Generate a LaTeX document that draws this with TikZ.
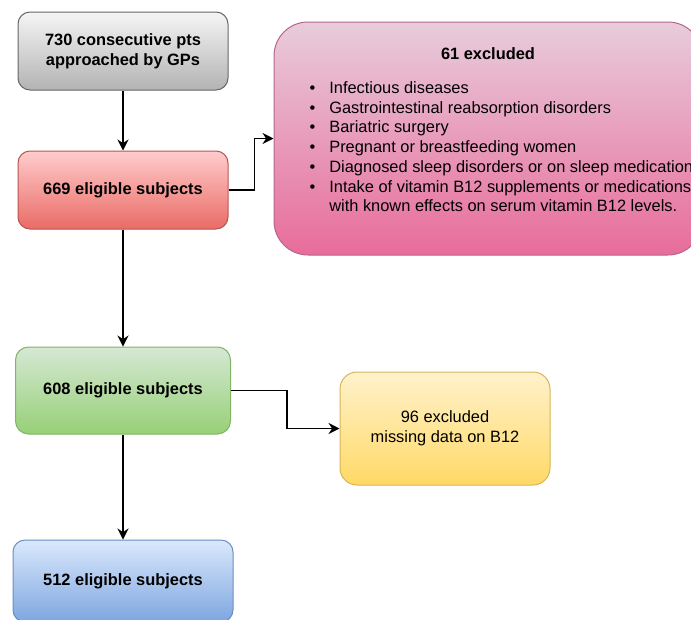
\documentclass[tikz,border=0pt]{standalone}
\usepackage{fontspec}
\setmainfont{Liberation Sans}
\usetikzlibrary{positioning, arrows.meta}

\newcommand{\flowfont}{\fontsize{16.4}{19.7}\selectfont}

\definecolor{greytop}{HTML}{F5F5F5}
\definecolor{greybot}{HTML}{B3B3B3}
\definecolor{greyline}{HTML}{666666}
\definecolor{redtop}{HTML}{FFCCCC}
\definecolor{redbot}{HTML}{EA6B66}
\definecolor{redline}{HTML}{B85450}
\definecolor{pinktop}{HTML}{E8CCDC}
\definecolor{pinkbot}{HTML}{E86C9A}
\definecolor{pinkline}{HTML}{B5678F}
\definecolor{greentop}{HTML}{D5E8D4}
\definecolor{greenbot}{HTML}{97D077}
\definecolor{greenline}{HTML}{82B366}
\definecolor{yellowtop}{HTML}{FFF2CC}
\definecolor{yellowbot}{HTML}{FFD966}
\definecolor{yellowline}{HTML}{D6B656}
\definecolor{bluetop}{HTML}{DAE8FC}
\definecolor{bluebot}{HTML}{7EA6E0}
\definecolor{blueline}{HTML}{6C8EBF}

\begin{document}
\begin{tikzpicture}[
    x = 1pt, y = -1pt,
    > = {Stealth[length=11pt, width=11pt]},
    line width = 1.2pt,
    node distance = 60pt,
    font = \flowfont
]

% Fix the canvas
\clip[use as bounding box] (0,0) rectangle (691,619);

% Setup the styles for the boxes
\tikzstyle{box}=[rectangle, line width=1pt, rounded corners=12pt, align=center, font=\flowfont\bfseries]
\tikzstyle{greybox}=[box, draw=greyline, top color=greytop, bottom color=greybot, minimum width=210pt, minimum height=78pt]
\tikzstyle{redbox}=[box, draw=redline, top color=redtop, bottom color=redbot, minimum width=210pt, minimum height=78pt]
\tikzstyle{greenbox}=[box, draw=greenline, top color=greentop, bottom color=greenbot, minimum width=215pt, minimum height=87pt, rounded corners=13pt]
\tikzstyle{bluebox}=[box, draw=blueline, top color=bluetop, bottom color=bluebot, minimum width=220pt, minimum height=82pt]
\tikzstyle{pinkbox}=[box, draw=pinkline, top color=pinktop, bottom color=pinkbot, minimum width=428pt, minimum height=233pt, rounded corners=34pt]
\tikzstyle{yellowbox}=[box, draw=yellowline, top color=yellowtop, bottom color=yellowbot, minimum width=210pt, minimum height=113pt, rounded corners=17pt, font=\flowfont]

% Draw the main flow
\node[greybox] (pts) at (123,51) {730 consecutive pts\\approached by GPs};
\node[redbox, below=60pt of pts] (elig669) {669 eligible subjects};
\node[greenbox, below=117pt of elig669] (elig608) {608 eligible subjects};
\node[bluebox, below=105pt of elig608] (elig512) {512 eligible subjects};

% Draw the exclusions
\node[pinkbox] (excl61) at (488,138.5) {};
\node[anchor=base, font=\flowfont\bfseries] (excl61title) at (488,59) {61 excluded};
\node[anchor=base west, inner sep=0pt, font=\flowfont] (excl61list) at (309,93.5) {%
  \begin{tabular}[t]{@{}l@{\hspace{14pt}}l@{}}
    • & Infectious diseases\\
    • & Gastrointestinal reabsorption disorders\\
    • & Bariatric surgery\\
    • & Pregnant or breastfeeding women\\
    • & Diagnosed sleep disorders or on sleep medication\\
    • & Intake of vitamin B12 supplements or medications\\
      & with known effects on serum vitamin B12 levels.
  \end{tabular}};
\node[yellowbox] (excl96) at (445,428.5) {96 excluded\\missing data on B12};

% Draw the transitions
\draw[->] (pts) -- (elig669);
\draw[->] (elig669) -- (elig608);
\draw[->] (elig608) -- (elig512);
\draw[->] (elig669.east) -- ++(26,0) |- (excl61.west);
\draw[->] (elig608.east) -- ++(56,0) |- (excl96.west);

\end{tikzpicture}
\end{document}
